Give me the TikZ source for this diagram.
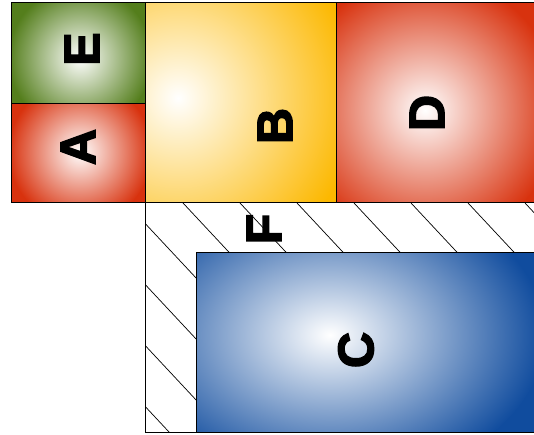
\documentclass[tikz,border=0pt]{standalone}
\usepackage{xcolor}
\usepackage{tikz}
\usepackage{fontspec}
\newfontfamily\blockfont[FakeBold=3]{Liberation Sans Bold}

\definecolor{leafgreen}{RGB}{84,126,28}
\definecolor{brickred}{RGB}{216,50,14}
\definecolor{sungold}{RGB}{252,184,0}
\definecolor{seablue}{RGB}{16,76,158}

\begin{document}
\begin{tikzpicture}[x=1pt,y=-1pt,
        lbl/.style={font=\blockfont\fontsize{50}{50}\selectfont, rotate=90, inner sep=0pt},
        edge/.style={draw=black, line width=1pt}]
                    \useasboundingbox (0,0) rectangle (534,435);

                    \begin{scope}
                        \clip (11,3) rectangle (145,104);
                        \fill[leafgreen] (11,3) rectangle (145,104);
                        \shade[inner color=white, outer color=leafgreen] (80,58) circle (72);
                    \end{scope}
                    \begin{scope}
                        \clip (11,104) rectangle (145,203);
                        \fill[brickred] (11,104) rectangle (145,203);
                        \shade[inner color=white, outer color=brickred] (80,152) circle (72);
                    \end{scope}
                    \begin{scope}
                        \clip (145,3) rectangle (336,203);
                        \fill[sungold] (145,3) rectangle (336,203);
                        \shade[inner color=white, outer color=sungold] (178,98) circle (180);
                    \end{scope}
                    \begin{scope}
                        \clip (336,3) rectangle (534,203);
                        \fill[brickred] (336,3) rectangle (534,203);
                        \shade[inner color=white, outer color=brickred] (425,110) circle (135);
                    \end{scope}

                    \begin{scope}
                        \clip (145,203) rectangle (534,432);
                        \foreach \k in {-4,...,7}
                            \draw[black, line width=0.7pt] (126+57*\k,203) -- ++(250,267.5);
                    \end{scope}

                    \begin{scope}
                        \clip (196,252) rectangle (534,432);
                        \fill[seablue] (196,252) rectangle (534,432);
                        \shade[inner color=white, outer color=seablue] (330,335) ellipse (215 and 150);
                    \end{scope}

                    \draw[edge] (11,3) rectangle (145,104);
                    \draw[edge] (11,104) rectangle (145,203);
                    \draw[edge] (145,3) rectangle (336,203);
                    \draw[edge] (336,3) -- (534,3);
                    \draw[edge] (336,3) -- (336,203) -- (534,203);
                    \draw[edge] (145,203) -- (145,432) -- (534,432);
                    \draw[edge] (534,252) -- (196,252) -- (196,432);

                    \node[lbl] (labE) at (82,49) {E};
                    \node[lbl] (labA) at (78,147) {A};
                    \node[lbl] (labB) at (275,126) {B};
                    \node[lbl] (labD) at (427,113) {D};
                    \node[lbl] (labF) at (264,229) {F};
                    \node[lbl] (labC) at (356,350) {C};
                \end{tikzpicture}
\end{document}
